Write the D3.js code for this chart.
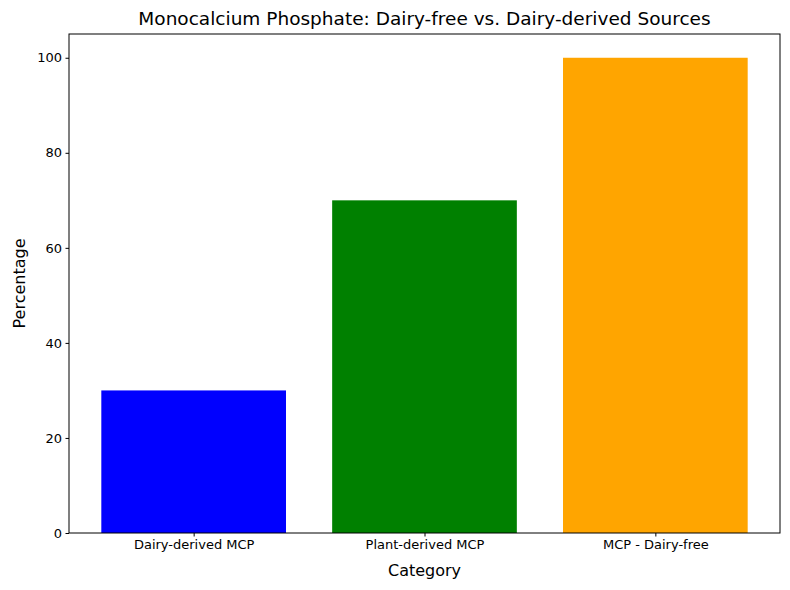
<!DOCTYPE html>
<html>
<head>
<meta charset="utf-8">
<script src="https://cdn.jsdelivr.net/npm/d3@7"></script>
<style>
  body { margin: 0; background: #fff; }
  text { font-family: "DejaVu Sans", sans-serif; }
</style>
</head>
<body>
<div id="chart"></div>
<script>
// chart data
let categories = ['Dairy-derived MCP', 'Plant-derived MCP', 'MCP - Dairy-free'];
let values = [30, 70, 100];
let colors = ['blue', 'green', 'orange'];
let yTicks = [0, 20, 40, 60, 80, 100];

let svgWidth = 790, svgHeight = 590;
let margin = { top: 34, right: 10, bottom: 57, left: 69 };
let plotW = svgWidth - margin.left - margin.right;
let plotH = svgHeight - margin.top - margin.bottom;

let svg = d3.select('#chart').append('svg')
    .attr('width', svgWidth)
    .attr('height', svgHeight);

let g = svg.append('g')
    .attr('transform', `translate(${margin.left},${margin.top})`);

// categorical positions on a linear scale, like matplotlib
let x = d3.scaleLinear().domain([-0.54, 2.54]).range([0, plotW]);
let y = d3.scaleLinear().domain([0, 105]).range([plotH, 0]);
let barW = x(0.8) - x(0);

g.selectAll('rect.bar')
    .data(values)
    .enter()
    .append('rect')
    .attr('class', 'bar')
    .attr('x', (d, i) => x(i) - barW / 2)
    .attr('y', d => y(d))
    .attr('width', barW)
    .attr('height', d => y(0) - y(d))
    .attr('fill', (d, i) => colors[i]);

// axes
let xAxis = d3.axisBottom(x)
    .tickValues(d3.range(categories.length))
    .tickFormat(i => categories[i])
    .tickSize(3.5).tickPadding(3.5);
let yAxis = d3.axisLeft(y).tickValues(yTicks).tickSize(3.5).tickPadding(3.5);

let xg = g.append('g').attr('transform', `translate(0,${plotH})`).call(xAxis);
let yg = g.append('g').call(yAxis);
[xg, yg].forEach(a => {
    a.select('.domain').remove();
    a.selectAll('text').style('font-size', '13px').attr('fill', '#000');
    a.selectAll('line').attr('stroke', '#000');
});

// frame
g.append('rect')
    .attr('width', plotW).attr('height', plotH)
    .attr('fill', 'none').attr('stroke', '#000').attr('stroke-width', 1);

// labels
svg.append('text')
    .attr('x', margin.left + plotW / 2).attr('y', 25)
    .attr('text-anchor', 'middle').style('font-size', '18.5px')
    .text('Monocalcium Phosphate: Dairy-free vs. Dairy-derived Sources');
svg.append('text')
    .attr('x', margin.left + plotW / 2).attr('y', 576)
    .attr('text-anchor', 'middle').style('font-size', '16px')
    .text('Category');
svg.append('text')
    .attr('transform', `translate(25,${margin.top + plotH / 2}) rotate(-90)`)
    .attr('text-anchor', 'middle').style('font-size', '16px')
    .text('Percentage');
</script>
</body>
</html>
